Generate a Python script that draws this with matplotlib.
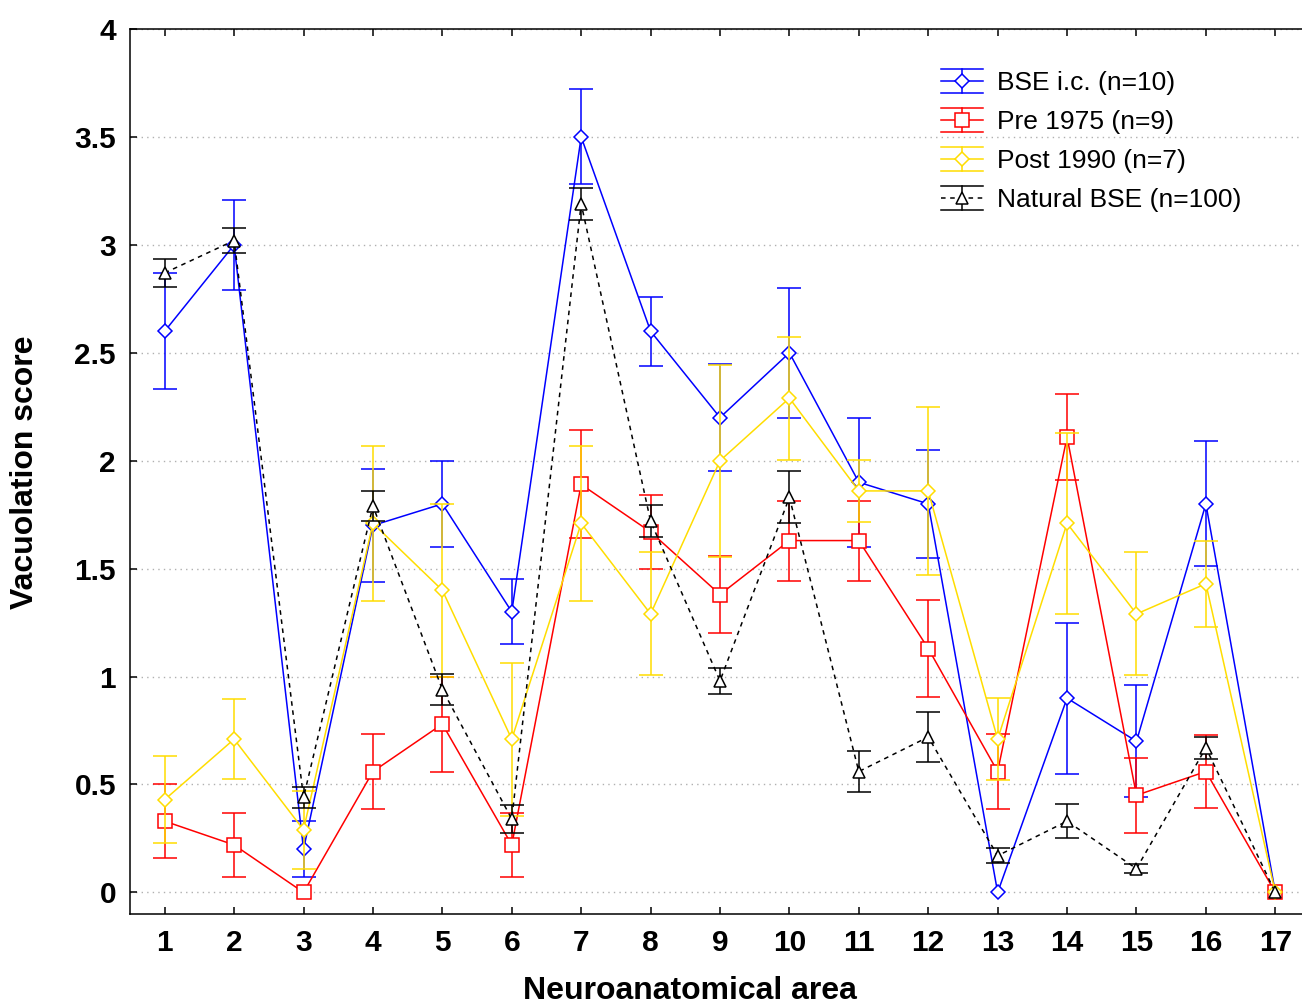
import numpy as np
import matplotlib.pyplot as plt
from matplotlib.lines import Line2D
from matplotlib.legend_handler import HandlerBase

plt.rcParams['font.family'] = ['Liberation Sans', 'DejaVu Sans']

# ── Data ─────────────────────────────────────────────────────────────────────
AREAS = list(range(1, 18))

BSE_IC = [2.60, 3.00, 0.20, 1.70, 1.80, 1.30, 3.50, 2.60, 2.20, 2.50, 1.90, 1.80, 0.00, 0.90, 0.70, 1.80, 0.00]
BSE_IC_ERR = [0.27, 0.21, 0.13, 0.26, 0.20, 0.15, 0.22, 0.16, 0.25, 0.30, 0.30, 0.25, None, 0.35, 0.26, 0.29, None]

PRE_1975 = [0.33, 0.22, 0.00, 0.56, 0.78, 0.22, 1.89, 1.67, 1.38, 1.63, 1.63, 1.13, 0.56, 2.11, 0.45, 0.56, 0.00]
PRE_1975_ERR = [0.17, 0.15, None, 0.175, 0.22, 0.15, 0.25, 0.17, 0.18, 0.185, 0.185, 0.225, 0.175, 0.20, 0.175, 0.17, None]

POST_1990 = [0.43, 0.71, 0.29, 1.71, 1.40, 0.71, 1.71, 1.29, 2.00, 2.29, 1.86, 1.86, 0.71, 1.71, 1.29, 1.43, 0.00]
POST_1990_ERR = [0.20, 0.185, 0.18, 0.36, 0.40, 0.355, 0.36, 0.285, 0.445, 0.285, 0.145, 0.39, 0.19, 0.42, 0.285, 0.20, None]

NATURAL = [2.87, 3.02, 0.44, 1.79, 0.94, 0.34, 3.19, 1.72, 0.98, 1.83, 0.56, 0.72, 0.17, 0.33, 0.11, 0.67, 0.00]
NATURAL_ERR = [0.063, 0.056, 0.05, 0.07, 0.07, 0.066, 0.073, 0.075, 0.06, 0.12, 0.094, 0.116, 0.035, 0.08, 0.02, 0.05, None]

Y_TICKS = [0, 0.5, 1, 1.5, 2, 2.5, 3, 3.5, 4]
Y_TICK_LABELS = ['0', '0.5', '1', '1.5', '2', '2.5', '3', '3.5', '4']

# label, means, errors, colour, marker, marker size, line style
SERIES = [
    ("BSE i.c. (n=10)", BSE_IC, BSE_IC_ERR, "#0000FF", "D", 7.0, "-"),
    ("Pre 1975 (n=9)", PRE_1975, PRE_1975_ERR, "#FF0000", "s", 9.5, "-"),
    ("Post 1990 (n=7)", POST_1990, POST_1990_ERR, "#FFDD00", "D", 7.0, "-"),
    ("Natural BSE (n=100)", NATURAL, NATURAL_ERR, "#000000", "^", 9.0, (0, (3, 3))),
]

LW = 1.1


class ErrorbarHandle(HandlerBase):
    """Legend key drawn as a line with caps across the full key width."""

    def create_artists(self, legend, orig_handle, xdescent, ydescent,
                       width, height, fontsize, trans):
        c = orig_handle.get_color()
        x0, x1 = -xdescent, -xdescent + width
        y0, y1 = -ydescent, -ydescent + height
        xm, ym = (x0 + x1) / 2, (y0 + y1) / 2
        mid = Line2D([x0, x1], [ym, ym])
        mid.update_from(orig_handle)
        mid.set_marker('None')
        arts = [
            Line2D([x0, x1], [y1, y1], color=c, lw=LW),
            Line2D([x0, x1], [y0, y0], color=c, lw=LW),
            Line2D([xm, xm], [y0, y1], color=c, lw=LW),
            mid,
            Line2D([xm], [ym], ls='none', marker=orig_handle.get_marker(),
                   ms=orig_handle.get_markersize(), mfc='white', mec=c, mew=LW),
        ]
        for a in arts:
            a.set_transform(trans)
        return arts


fig = plt.figure(figsize=(13.02, 10.05), dpi=100)
ax = fig.add_axes([130 / 1302, 91 / 1005, 1180 / 1302, 885 / 1005])

handles = []
for i, (label, mean, err, colour, marker, ms, ls) in enumerate(SERIES):
    yerr = np.array(err, dtype=float)
    ax.errorbar(AREAS, mean, yerr=yerr, color=colour, ls=ls, lw=LW,
                marker=marker, ms=ms, mfc='white', mec=colour, mew=LW,
                elinewidth=LW, capsize=8.5, capthick=LW, zorder=3 + i)
    handles.append(Line2D([], [], color=colour, ls=ls, lw=LW,
                          marker=marker, ms=ms, mfc='white', mec=colour))

ax.set_xlim(0.5, 17.5)
ax.set_ylim(-0.1, 4.0)
ax.set_xticks(AREAS)
ax.set_yticks(Y_TICKS, Y_TICK_LABELS)
ax.tick_params(axis='both', direction='in', length=5, width=1.1, top=True,
               labelsize=21.5)
ax.tick_params(axis='x', pad=11)
ax.tick_params(axis='y', pad=10)
for lbl in ax.get_xticklabels() + ax.get_yticklabels():
    lbl.set_fontweight('bold')
for s in ax.spines.values():
    s.set_linewidth(1.1)
ax.yaxis.grid(True, ls=(0, (1, 3)), color='#b0b0b0', lw=1)
ax.set_axisbelow(True)

fig.text(25 / 1302, 1 - 472 / 1005, "Vacuolation score", rotation=90,
         ha='center', va='center', fontsize=23, fontweight='bold')
fig.text(690 / 1302, 1 - 991 / 1005, "Neuroanatomical area",
         ha='center', va='center', fontsize=23, fontweight='bold')

ax.legend(handles, [s[0] for s in SERIES],
          handler_map={Line2D: ErrorbarHandle()},
          loc='upper left', bbox_to_anchor=(941 / 1302, 1 - 69 / 1005),
          bbox_transform=fig.transFigure, frameon=False, fontsize=19,
          handlelength=1.6, handleheight=1.0, handletextpad=0.52,
          labelspacing=0.5, borderpad=0, borderaxespad=0)

fig.savefig("out.png", dpi=100)
